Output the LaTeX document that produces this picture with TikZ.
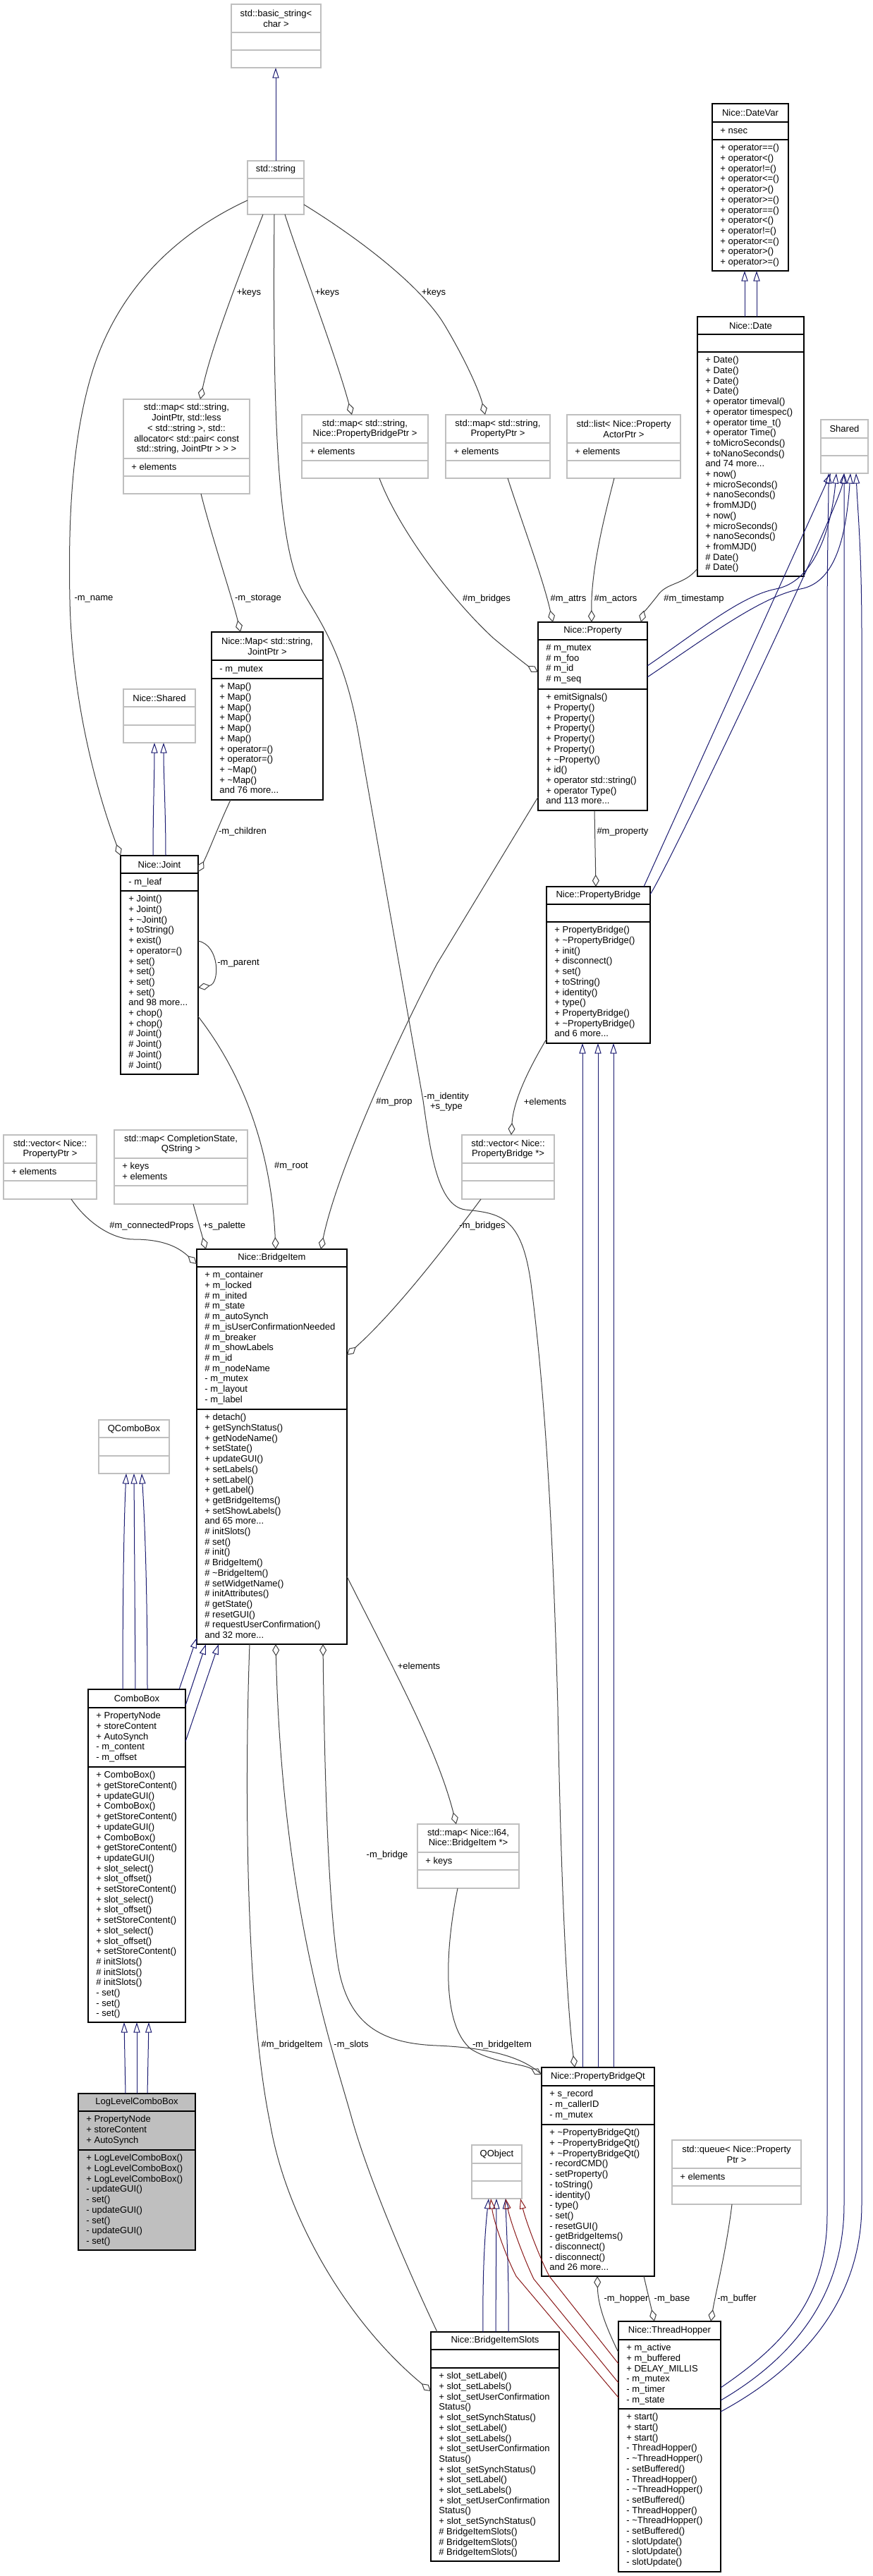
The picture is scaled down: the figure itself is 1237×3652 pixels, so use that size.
\documentclass[tikz,border=0pt]{standalone}
\usepackage{fontspec}
\setmainfont{Liberation Sans}
\usetikzlibrary{arrows.meta}
\definecolor{edgegray}{HTML}{404040}
\definecolor{inhblue}{HTML}{191970}
\definecolor{privred}{HTML}{8B1A1A}
\definecolor{boxgray}{HTML}{BFBFBF}
\newcommand\dfs{\fontsize{6.5pt}{7.35pt}\selectfont}
\newcommand\umlbox[9]{%
  \node[#1, minimum width={(#5-#3)*0.5pt}, minimum height={(#6-#4)*0.5pt}, anchor=north west] (#2) at (#3,#4) {};
  \draw[#1line] (#3,#7) -- (#5,#7) (#3,#8) -- (#5,#8);
  \node[titletext] (#2-t) at ({(#3+#5)/2},{(#4+#7)/2}) {#9};
  \def\curname{#2}\def\curx{#3}\def\curda{#7}\def\curdb{#8}}
\newcommand\umlattr[1]{\node[membtext] (\curname-a) at (\curx+11,\curda+6) {#1};}
\newcommand\umlmeth[1]{\node[membtext] (\curname-m) at (\curx+11,\curdb+6) {#1};}
\tikzset{
  docbox/.style={draw=black, fill=white, line width=0.6pt, inner sep=0pt, outer sep=0pt},
  docboxline/.style={draw=black, line width=0.6pt},
  extbox/.style={draw=boxgray, fill=white, line width=0.6pt, inner sep=0pt, outer sep=0pt},
  extboxline/.style={draw=boxgray, line width=0.6pt},
  curbox/.style={draw=black, fill=boxgray, line width=0.6pt, inner sep=0pt, outer sep=0pt},
  curboxline/.style={draw=black, line width=0.6pt},
  titletext/.style={align=center, inner sep=0pt, font=\dfs},
  membtext/.style={align=left, anchor=north west, inner sep=0pt, font=\dfs, execute at begin node={\rule{0pt}{4.8pt}}},
  elabel/.style={inner sep=0pt, font=\dfs, align=center},
  collab/.style={edgegray, line width=0.5pt, -{Diamond[open, length=8.5pt, width=5pt]}},
  inh/.style={inhblue, line width=0.5pt, -{Triangle[open, length=7.3pt, width=4.6pt]}},
  privinh/.style={privred, line width=0.5pt, -{Triangle[open, length=7.3pt, width=4.6pt]}},
}
\begin{document}
\begin{tikzpicture}[x=0.5pt,y=-0.5pt]
\useasboundingbox[fill=white] (0,0) rectangle (1237,3652);

% ---------- boxes ----------
\umlbox{extbox}{bstr}{328}{6}{455}{96}{46}{71}{std::basic\_string<\\char >}
\umlbox{extbox}{strg}{351}{228}{431}{304}{253}{279}{std::string}
\umlbox{extbox}{mapjp}{175}{566}{354}{700}{650}{675}{std::map< std::string,\\ JointPtr, std::less\\< std::string >, std::\\allocator< std::pair< const\\ std::string, JointPtr > > >}
\umlattr{+ elements}
\umlbox{extbox}{mappbp}{428}{588}{607}{678}{628}{653}{std::map< std::string,\\Nice::PropertyBridgePtr >}
\umlattr{+ elements}
\umlbox{extbox}{mappp}{632}{588}{780}{678}{628}{653}{std::map< std::string,\\PropertyPtr >}
\umlattr{+ elements}
\umlbox{extbox}{listact}{804}{588}{965}{678}{628}{653}{std::list< Nice::Property\\ActorPtr >}
\umlattr{+ elements}
\umlbox{docbox}{datevar}{1010}{147}{1118}{384}{173}{198}{Nice::DateVar}
\umlattr{+ nsec}
\umlmeth{+ operator==()\\+ operator<()\\+ operator!=()\\+ operator<=()\\+ operator>()\\+ operator>=()\\+ operator==()\\+ operator<()\\+ operator!=()\\+ operator<=()\\+ operator>()\\+ operator>=()}
\umlbox{docbox}{date}{989}{449}{1140}{817}{474}{499}{Nice::Date}
\umlmeth{+ Date()\\+ Date()\\+ Date()\\+ Date()\\+ operator timeval()\\+ operator timespec()\\+ operator time\_t()\\+ operator Time()\\+ toMicroSeconds()\\+ toNanoSeconds()\\and 74 more...\\+ now()\\+ microSeconds()\\+ nanoSeconds()\\+ fromMJD()\\+ now()\\+ microSeconds()\\+ nanoSeconds()\\+ fromMJD()\\\# Date()\\\# Date()}
\umlbox{extbox}{shared}{1164}{595}{1231}{671}{621}{646}{Shared}
\umlbox{docbox}{nmap}{300}{896}{458}{1134}{936}{962}{Nice::Map< std::string,\\JointPtr >}
\umlattr{- m\_mutex}
\umlmeth{+ Map()\\+ Map()\\+ Map()\\+ Map()\\+ Map()\\+ Map()\\+ operator=()\\+ operator=()\\+ \textasciitilde Map()\\+ \textasciitilde Map()\\and 76 more...}
\umlbox{extbox}{nshared}{175}{977}{277}{1053}{1002}{1028}{Nice::Shared}
\umlbox{docbox}{joint}{171}{1213}{281}{1523}{1238}{1263}{Nice::Joint}
\umlattr{- m\_leaf}
\umlmeth{+ Joint()\\+ Joint()\\+ \textasciitilde Joint()\\+ toString()\\+ exist()\\+ operator=()\\+ set()\\+ set()\\+ set()\\+ set()\\and 98 more...\\+ chop()\\+ chop()\\\# Joint()\\\# Joint()\\\# Joint()\\\# Joint()}
\umlbox{docbox}{prop}{763}{882}{918}{1149}{907}{977}{Nice::Property}
\umlattr{\# m\_mutex\\\# m\_foo\\\# m\_id\\\# m\_seq}
\umlmeth{+ emitSignals()\\+ Property()\\+ Property()\\+ Property()\\+ Property()\\+ Property()\\+ \textasciitilde Property()\\+ id()\\+ operator std::string()\\+ operator Type()\\and 113 more...}
\umlbox{docbox}{pb}{775}{1257}{922}{1479}{1282}{1307}{Nice::PropertyBridge}
\umlmeth{+ PropertyBridge()\\+ \textasciitilde PropertyBridge()\\+ init()\\+ disconnect()\\+ set()\\+ toString()\\+ identity()\\+ type()\\+ PropertyBridge()\\+ \textasciitilde PropertyBridge()\\and 6 more...}
\umlbox{extbox}{vecpp}{5}{1609}{137}{1700}{1649}{1674}{std::vector< Nice::\\PropertyPtr >}
\umlattr{+ elements}
\umlbox{extbox}{mapcs}{162}{1602}{351}{1707}{1642}{1681}{std::map< CompletionState,\\QString >}
\umlattr{+ keys\\+ elements}
\umlbox{extbox}{vecpb}{655}{1609}{786}{1700}{1649}{1674}{std::vector< Nice::\\PropertyBridge *>}
\umlbox{docbox}{bitem}{279}{1771}{492}{2331}{1796}{1998}{Nice::BridgeItem}
\umlattr{+ m\_container\\+ m\_locked\\\# m\_inited\\\# m\_state\\\# m\_autoSynch\\\# m\_isUserConfirmationNeeded\\\# m\_breaker\\\# m\_showLabels\\\# m\_id\\\# m\_nodeName\\- m\_mutex\\- m\_layout\\- m\_label}
\umlmeth{+ detach()\\+ getSynchStatus()\\+ getNodeName()\\+ setState()\\+ updateGUI()\\+ setLabels()\\+ setLabel()\\+ getLabel()\\+ getBridgeItems()\\+ setShowLabels()\\and 65 more...\\\# initSlots()\\\# set()\\\# init()\\\# BridgeItem()\\\# \textasciitilde BridgeItem()\\\# setWidgetName()\\\# initAttributes()\\\# getState()\\\# resetGUI()\\\# requestUserConfirmation()\\and 32 more...}
\umlbox{extbox}{qcombo}{140}{2013}{240}{2089}{2038}{2064}{QComboBox}
\umlbox{docbox}{combo}{125}{2395}{263}{2867}{2421}{2505}{ComboBox}
\umlattr{+ PropertyNode\\+ storeContent\\+ AutoSynch\\- m\_content\\- m\_offset}
\umlmeth{+ ComboBox()\\+ getStoreContent()\\+ updateGUI()\\+ ComboBox()\\+ getStoreContent()\\+ updateGUI()\\+ ComboBox()\\+ getStoreContent()\\+ updateGUI()\\+ slot\_select()\\+ slot\_offset()\\+ setStoreContent()\\+ slot\_select()\\+ slot\_offset()\\+ setStoreContent()\\+ slot\_select()\\+ slot\_offset()\\+ setStoreContent()\\\# initSlots()\\\# initSlots()\\\# initSlots()\\- set()\\- set()\\- set()}
\umlbox{extbox}{mapi64}{592}{2586}{736}{2677}{2626}{2651}{std::map< Nice::I64,\\Nice::BridgeItem *>}
\umlattr{+ keys}
\umlbox{curbox}{llcb}{111}{2968}{277}{3190}{2993}{3048}{LogLevelComboBox}
\umlattr{+ PropertyNode\\+ storeContent\\+ AutoSynch}
\umlmeth{+ LogLevelComboBox()\\+ LogLevelComboBox()\\+ LogLevelComboBox()\\- updateGUI()\\- set()\\- updateGUI()\\- set()\\- updateGUI()\\- set()}
\umlbox{docbox}{pbqt}{768}{2931}{928}{3227}{2957}{3012}{Nice::PropertyBridgeQt}
\umlattr{+ s\_record\\- m\_callerID\\- m\_mutex}
\umlmeth{+ \textasciitilde PropertyBridgeQt()\\+ \textasciitilde PropertyBridgeQt()\\+ \textasciitilde PropertyBridgeQt()\\- recordCMD()\\- setProperty()\\- toString()\\- identity()\\- type()\\- set()\\- resetGUI()\\- getBridgeItems()\\- disconnect()\\- disconnect()\\and 26 more...}
\umlbox{extbox}{qobject}{669}{3041}{740}{3117}{3067}{3092}{QObject}
\umlbox{extbox}{queue}{953}{3034}{1136}{3125}{3074}{3099}{std::queue< Nice::Property\\Ptr >}
\umlattr{+ elements}
\umlbox{docbox}{bislots}{611}{3306}{793}{3631}{3331}{3357}{Nice::BridgeItemSlots}
\umlmeth{+ slot\_setLabel()\\+ slot\_setLabels()\\+ slot\_setUserConfirmation\\Status()\\+ slot\_setSynchStatus()\\+ slot\_setLabel()\\+ slot\_setLabels()\\+ slot\_setUserConfirmation\\Status()\\+ slot\_setSynchStatus()\\+ slot\_setLabel()\\+ slot\_setLabels()\\+ slot\_setUserConfirmation\\Status()\\+ slot\_setSynchStatus()\\\# BridgeItemSlots()\\\# BridgeItemSlots()\\\# BridgeItemSlots()}
\umlbox{docbox}{thop}{877}{3291}{1022}{3646}{3317}{3415}{Nice::ThreadHopper}
\umlattr{+ m\_active\\+ m\_buffered\\+ DELAY\_MILLIS\\- m\_mutex\\- m\_timer\\- m\_state}
\umlmeth{+ start()\\+ start()\\+ start()\\- ThreadHopper()\\- \textasciitilde ThreadHopper()\\- setBuffered()\\- ThreadHopper()\\- \textasciitilde ThreadHopper()\\- setBuffered()\\- ThreadHopper()\\- \textasciitilde ThreadHopper()\\- setBuffered()\\- slotUpdate()\\- slotUpdate()\\- slotUpdate()}

% ---------- inheritance ----------
\draw[inh] (strg.north -| 391,0) -- (bstr.south -| 391,0);
\draw[inh] (date.north -| 1056,0) -- (datevar.south -| 1056,0);
\draw[inh] (date.north -| 1073,0) -- (datevar.south -| 1073,0);
\draw[inh] (joint.north -| 217,0) .. controls (217,1150) and (219,1100) .. (nshared.south -| 219,0);
\draw[inh] (joint.north -| 235,0) .. controls (235,1150) and (232,1100) .. (nshared.south -| 232,0);
\draw[inh] (prop.east |- 0,944) .. controls (990,895) and (1050,845) .. (1100,835) .. controls (1150,826) and (1178,760) .. (shared.south -| 1186,0);
\draw[inh] (prop.east |- 0,960) .. controls (1000,905) and (1080,845) .. (1135,835) .. controls (1185,826) and (1200,760) .. (shared.south -| 1206,0);
\draw[inh] (pb.north -| 913,0) -- (shared.south -| 1178,0);
\draw[inh] (pb.east |- 0,1268) .. controls (950,1225) and (1190,720) .. (shared.south -| 1197,0);
\draw[inh] (pbqt.north -| 826,0) -- (pb.south -| 826,0);
\draw[inh] (pbqt.north -| 848,0) -- (pb.south -| 848,0);
\draw[inh] (pbqt.north -| 870,0) -- (pb.south -| 870,0);
\draw[inh] (combo.north -| 174,0) .. controls (174,2250) and (176,2150) .. (qcombo.south -| 179,0);
\draw[inh] (combo.north -| 192,0) -- (qcombo.south -| 190,0);
\draw[inh] (combo.north -| 209,0) .. controls (209,2250) and (205,2150) .. (qcombo.south -| 201,0);
\draw[inh] (combo.north -| 254,0) -- (bitem.west |- 0,2322);
\draw[inh] (combo.east |- 0,2418) -- (bitem.south -| 292,0);
\draw[inh] (combo.east |- 0,2469) -- (bitem.south -| 310,0);
\draw[inh] (llcb.north -| 178,0) -- (combo.south -| 176,0);
\draw[inh] (llcb.north -| 194,0) -- (combo.south -| 194,0);
\draw[inh] (llcb.north -| 209,0) -- (combo.south -| 211,0);
\draw[inh] (bislots.north -| 685,0) .. controls (684,3220) and (688,3160) .. (qobject.south -| 693,0);
\draw[inh] (bislots.north -| 703,0) -- (qobject.south -| 704,0);
\draw[inh] (bislots.north -| 721,0) .. controls (722,3220) and (718,3160) .. (qobject.south -| 717,0);
\draw[privinh] (thop.west |- 0,3351) -- (779,3227) .. controls (765,3200) and (746,3150) .. (qobject.south -| 738,0);
\draw[privinh] (thop.west |- 0,3378) -- (757,3231) .. controls (742,3200) and (724,3150) .. (qobject.south -| 717,0);
\draw[privinh] (thop.west |- 0,3399) -- (732,3227) .. controls (718,3200) and (700,3150) .. (qobject.south -| 696,0);
\draw[inh] (thop.east |- 0,3385) .. controls (1110,3325) and (1173,3260) .. (1173,3140) -- (1173,900) .. controls (1173,780) and (1175,720) .. (shared.south -| 1175,0);
\draw[inh] (thop.east |- 0,3403) .. controls (1130,3340) and (1197,3250) .. (1197,3125) -- (shared.south -| 1197,0);
\draw[inh] (thop.east |- 0,3419) .. controls (1150,3350) and (1222,3250) .. (1222,3125) -- (1222,900) .. controls (1222,780) and (1216,720) .. (shared.south -| 1214,0);

% ---------- collaboration ----------
\draw[collab] (strg.west |- 0,284) .. controls (230,340) and (160,430) .. (130,530) .. controls (100,630) and (97,750) .. (99,850) .. controls (102,1000) and (140,1130) .. (joint.north -| 171,0);
\draw[collab] (strg.south -| 373,0) .. controls (345,375) and (300,490) .. (mapjp.north -| 284,0);
\draw[collab] (strg.south -| 404,0) .. controls (425,370) and (475,500) .. (mappbp.north -| 499,0);
\draw[collab] (strg.east |- 0,290) .. controls (520,345) and (600,410) .. (630,460) .. controls (660,510) and (680,555) .. (mappp.north -| 688,0);
\draw[collab] (strg.south -| 389,0) .. controls (386,600) and (395,780) .. (430,840) .. controls (455,883) and (490,930) .. (510,1050) -- (600,1560) .. controls (610,1630) and (620,1710) .. (660,1715) .. controls (710,1720) and (740,1725) .. (753,1820) .. controls (775,1990) and (785,2200) .. (791,2420) .. controls (796,2700) and (805,2850) .. (pbqt.north -| 815,0);
\draw[collab] (mapjp.south -| 285,0) .. controls (300,760) and (330,850) .. (nmap.north -| 341,0);
\draw[collab] (nmap.south -| 327,0) .. controls (310,1170) and (295,1210) .. (joint.east |- 0,1236);
\draw[collab] (joint.east |- 0,1334) .. controls (312,1340) and (312,1395) .. (joint.east |- 0,1400);
\draw[collab] (mappbp.south -| 538,0) .. controls (565,750) and (640,850) .. (700,905) .. controls (730,930) and (750,945) .. (prop.west |- 0,953);
\draw[collab] (mappp.south -| 720,0) .. controls (740,740) and (770,820) .. (prop.north -| 784,0);
\draw[collab] (listact.south -| 871,0) .. controls (855,740) and (838,810) .. (prop.north -| 839,0);
\draw[collab] (date.west |- 0,806) .. controls (970,830) and (945,825) .. (932,845) .. controls (920,860) and (912,870) .. (prop.north -| 909,0);
\draw[collab] (prop.south -| 843,0) -- (pb.north -| 845,0);
\draw[collab] (pb.west |- 0,1473) .. controls (750,1515) and (728,1560) .. (vecpb.north -| 725,0);
\draw[collab] (prop.west |- 0,1130) -- (620,1366) .. controls (580,1440) and (480,1650) .. (bitem.north -| 455,0);
\draw[collab] (vecpb.south -| 682,0) .. controls (630,1770) and (560,1860) .. (bitem.east |- 0,1921);
\draw[collab] (joint.east |- 0,1441) .. controls (350,1530) and (385,1640) .. (bitem.north -| 391,0);
\draw[collab] (vecpp.south -| 101,0) .. controls (125,1735) and (160,1757) .. (190,1757) .. controls (235,1757) and (255,1770) .. (bitem.west |- 0,1792);
\draw[collab] (mapcs.south -| 274,0) -- (bitem.north -| 292,0);
\draw[collab] (bitem.east |- 0,2235) .. controls (560,2370) and (620,2480) .. (mapi64.north -| 647,0);
\draw[collab] (bitem.south -| 354,0) .. controls (346,2550) and (350,2850) .. (383,3010) .. controls (405,3140) and (490,3290) .. (bislots.west |- 0,3390);
\draw[collab] (bislots.north -| 620,0) .. controls (570,3200) and (520,3080) .. (498,3000) .. controls (470,2900) and (400,2700) .. (bitem.south -| 391,0);
\draw[collab] (pbqt.west |- 0,2941) .. controls (740,2915) and (690,2903) .. (620,2900) .. controls (540,2897) and (495,2870) .. (480,2790) .. controls (465,2700) and (460,2500) .. (bitem.south -| 458,0);
\draw[collab] (mapi64.south -| 649,0) .. controls (632,2760) and (625,2870) .. (668,2905) .. controls (700,2925) and (740,2925) .. (pbqt.west |- 0,2941);
\draw[collab] (thop.west |- 0,3335) .. controls (860,3300) and (848,3270) .. (pbqt.south -| 847,0);
\draw[collab] (pbqt.south -| 913,0) -- (thop.north -| 928,0);
\draw[collab] (queue.south -| 1038,0) .. controls (1030,3190) and (1015,3250) .. (thop.north -| 1008,0);

% ---------- edge labels ----------
\node[elabel] (l1) at (353,415) {+keys};
\node[elabel] (l2) at (464,415) {+keys};
\node[elabel] (l3) at (615,415) {+keys};
\node[elabel] (l4) at (133,849) {-m\_name};
\node[elabel] (l5) at (366,849) {-m\_storage};
\node[elabel] (l6) at (344,1179) {-m\_children};
\node[elabel] (l7) at (690,849) {\#m\_bridges};
\node[elabel] (l8) at (806,849) {\#m\_attrs};
\node[elabel] (l9) at (873,849) {\#m\_actors};
\node[elabel] (l10) at (984,849) {\#m\_timestamp};
\node[elabel] (l11) at (883,1179) {\#m\_property};
\node[elabel] (l12) at (338,1366) {-m\_parent};
\node[elabel] (l13) at (559,1562) {\#m\_prop};
\node[elabel] (l14) at (633,1562) {-m\_identity\\+s\_type};
\node[elabel] (l15) at (413,1653) {\#m\_root};
\node[elabel] (l16) at (215,1738) {\#m\_connectedProps};
\node[elabel] (l17) at (318,1738) {+s\_palette};
\node[elabel] (l18) at (773,1562) {+elements};
\node[elabel] (l19) at (684,1738) {-m\_bridges};
\node[elabel] (l20) at (594,2362) {+elements};
\node[elabel] (l21) at (414,2899) {\#m\_bridgeItem};
\node[elabel] (l22) at (498,2899) {-m\_slots};
\node[elabel] (l23) at (549,2630) {-m\_bridge};
\node[elabel] (l24) at (712,2899) {-m\_bridgeItem};
\node[elabel] (l25) at (888,3259) {-m\_hopper};
\node[elabel] (l26) at (953,3259) {-m\_base};
\node[elabel] (l27) at (1045,3259) {-m\_buffer};
\end{tikzpicture}
\end{document}
